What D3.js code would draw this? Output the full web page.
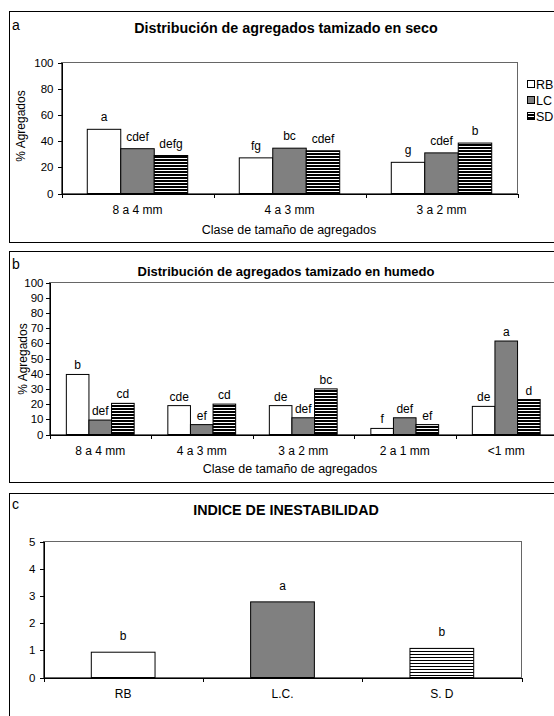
<!DOCTYPE html>
<html>
<head>
<meta charset="utf-8">
<script src="https://cdn.jsdelivr.net/npm/d3@7"></script>
<style>
  body { margin: 0; background: #fff; }
  text { font-family: "Liberation Sans", Arial, sans-serif; fill: #000; }
</style>
</head>
<body>
<script>
// ---- data ----
var seriesNames = ["RB", "LC", "SD"];

// a: tamizado en seco
var secoClasses = ["8 a 4 mm", "4 a 3 mm", "3 a 2 mm"];
var secoRB = [49, 27.2, 23.8];
var secoLC = [34.2, 34.6, 31];
var secoSD = [29, 32.6, 38.5];
var secoLetrasRB = ["a", "fg", "g"];
var secoLetrasLC = ["cdef", "bc", "cdef"];
var secoLetrasSD = ["defg", "cdef", "b"];
var secoTicks = [0, 20, 40, 60, 80, 100];

// b: tamizado en humedo
var humedoClasses = ["8 a 4 mm", "4 a 3 mm", "3 a 2 mm", "2 a 1 mm", "<1 mm"];
var humedoRB = [39.5, 19, 19, 4, 18.5];
var humedoLC = [9.5, 6.5, 11, 11, 61.5];
var humedoSD = [20.5, 20, 30, 6.5, 23];
var humedoLetrasRB = ["b", "cde", "de", "f", "de"];
var humedoLetrasLC = ["def", "ef", "def", "def", "a"];
var humedoLetrasSD = ["cd", "cd", "bc", "ef", "d"];
var humedoTicks = [0, 10, 20, 30, 40, 50, 60, 70, 80, 90, 100];

// c: indice de inestabilidad
var indiceTrat = ["RB", "L.C.", "S. D"];
var indiceVal = [0.93, 2.78, 1.07];
var indiceLetras = ["b", "a", "b"];
var indiceTicks = [0, 1, 2, 3, 4, 5];

var svg = d3.select("body").append("svg")
  .attr("width", 554)
  .attr("height", 716);

var defs = svg.append("defs");
function stripes(id, black, period) {
  var p = defs.append("pattern")
    .attr("id", id)
    .attr("patternUnits", "userSpaceOnUse")
    .attr("width", 8).attr("height", period);
  p.append("rect").attr("width", 8).attr("height", period).attr("fill", "#fff");
  p.append("rect").attr("width", 8).attr("height", black).attr("fill", "#000");
}
stripes("rayasAB", 2, 3);
stripes("rayasC", 1, 3);

var fills = {RB: "#fff", LC: "#808080", SD: "url(#rayasAB)"};

function drawPanel(opt) {
  var g = svg.append("g");

  // outer frame
  g.append("rect")
    .attr("x", opt.frame[0] + 0.5).attr("y", opt.frame[1] + 0.5)
    .attr("width", opt.frame[2]).attr("height", opt.frame[3])
    .attr("fill", "none").attr("stroke", "#000");

  g.append("text")
    .attr("x", 12).attr("y", opt.frame[1] + opt.letterDy)
    .style("font-size", "14px")
    .text(opt.letter);

  g.append("text")
    .attr("x", 286).attr("y", opt.titleY)
    .attr("text-anchor", "middle")
    .style("font-size", opt.titleSize)
    .style("font-weight", "bold")
    .text(opt.title);

  var y = d3.scaleLinear().domain([0, opt.ticks[opt.ticks.length - 1]])
    .range([opt.bottom, opt.top]);
  var x = d3.scaleBand().domain(opt.categories)
    .range([opt.left, opt.right]);
  var xs = d3.scaleBand().domain(opt.series.map(function(s) { return s.name; }))
    .range([0, x.bandwidth()])
    .paddingOuter(opt.outer);

  // plot area border
  g.append("rect")
    .attr("x", opt.left).attr("y", opt.top)
    .attr("width", opt.right - opt.left).attr("height", opt.bottom - opt.top)
    .attr("fill", "none").attr("stroke", "#666")
    .attr("shape-rendering", "crispEdges");

  opt.series.forEach(function(s) {
    var grp = g.append("g");
    grp.selectAll("rect")
      .data(s.values)
      .enter().append("rect")
      .attr("x", function(d, i) { return x(opt.categories[i]) + xs(s.name); })
      .attr("y", function(d) { return y(d); })
      .attr("width", xs.bandwidth())
      .attr("height", function(d) { return y(0) - y(d); })
      .attr("fill", function(d, i) { return Array.isArray(s.fill) ? s.fill[i] : s.fill; })
      .attr("stroke", "#000")
      .attr("stroke-width", 1);

    grp.selectAll("text")
      .data(s.values)
      .enter().append("text")
      .attr("x", function(d, i) { return x(opt.categories[i]) + xs(s.name) + xs.bandwidth() / 2; })
      .attr("y", function(d) { return y(d) - opt.labelGap; })
      .attr("text-anchor", "middle")
      .style("font-size", "12px")
      .text(function(d, i) { return s.letters[i]; });
  });

  // y axis
  var ya = g.append("g")
    .attr("transform", "translate(" + opt.left + ",0)")
    .call(d3.axisLeft(y).tickValues(opt.ticks).tickFormat(d3.format("d"))
      .tickSize(4).tickSizeOuter(0).tickPadding(opt.tickPad));
  ya.selectAll("text").style("font-size", "11.5px").attr("fill", "#000");
  ya.selectAll("line, path").attr("stroke", "#000").attr("shape-rendering", "crispEdges");

  // x axis: ticks on category boundaries
  var xb = d3.scaleLinear().domain([0, opt.categories.length]).range([opt.left, opt.right]);
  var xa = g.append("g")
    .attr("transform", "translate(0," + opt.bottom + ")")
    .call(d3.axisBottom(xb).tickValues(d3.range(opt.categories.length + 1))
      .tickFormat("").tickSize(4).tickSizeOuter(0));
  xa.selectAll("line, path").attr("stroke", "#000").attr("shape-rendering", "crispEdges");

  var xl = g.append("g")
    .attr("transform", "translate(0," + opt.bottom + ")")
    .call(d3.axisBottom(x).tickSize(0).tickPadding(opt.catPad));
  xl.select("path").remove();
  xl.selectAll("text").style("font-size", "12px").attr("fill", "#000");

  if (opt.xTitle) {
    g.append("text")
      .attr("x", opt.xTitleX).attr("y", opt.xTitleY)
      .attr("text-anchor", "middle")
      .style("font-size", "12.5px")
      .text(opt.xTitle);
  }
  if (opt.yTitle) {
    g.append("text")
      .attr("transform", "translate(" + opt.yTitleX + "," + opt.yTitleY + ") rotate(-90)")
      .attr("text-anchor", "middle")
      .style("font-size", "12px")
      .text(opt.yTitle);
  }
  return g;
}

// panel a
var ga = drawPanel({
  frame: [9, 11, 600, 231], letter: "a", letterDy: 19,
  title: "Distribución de agregados tamizado en seco", titleY: 33, titleSize: "14.3px",
  categories: secoClasses, ticks: secoTicks,
  series: [
    {name: "RB", values: secoRB, letters: secoLetrasRB, fill: fills.RB},
    {name: "LC", values: secoLC, letters: secoLetrasLC, fill: fills.LC},
    {name: "SD", values: secoSD, letters: secoLetrasSD, fill: fills.SD}
  ],
  left: 61.5, right: 517.5, top: 62.5, bottom: 193.5, outer: 0.77,
  labelGap: 8, tickPad: 4, catPad: 12,
  xTitle: "Clase de tamaño de agregados", xTitleX: 289, xTitleY: 234,
  yTitle: "% Agregados", yTitleX: 25, yTitleY: 126
});

// legend of panel a
var leg = ga.append("g");
seriesNames.forEach(function(name, i) {
  var ly = 84 + i * 16;
  leg.append("rect")
    .attr("x", 527.5).attr("y", ly - 3.5)
    .attr("width", 7).attr("height", 7)
    .attr("fill", fills[name])
    .attr("stroke", "#000");
  leg.append("text")
    .attr("x", 536).attr("y", ly + 4.5)
    .style("font-size", "12.5px")
    .text(name);
});

// panel b
drawPanel({
  frame: [9, 251, 600, 231], letter: "b", letterDy: 18,
  title: "Distribución de agregados tamizado en humedo", titleY: 276, titleSize: "13px",
  categories: humedoClasses, ticks: humedoTicks,
  series: [
    {name: "RB", values: humedoRB, letters: humedoLetrasRB, fill: fills.RB},
    {name: "LC", values: humedoLC, letters: humedoLetrasLC, fill: fills.LC},
    {name: "SD", values: humedoSD, letters: humedoLetrasSD, fill: fills.SD}
  ],
  left: 49.5, right: 557, top: 282.5, bottom: 434.5, outer: 0.745,
  labelGap: 5, tickPad: 2, catPad: 12,
  xTitle: "Clase de tamaño de agregados", xTitleX: 290, xTitleY: 473,
  yTitle: "% Agregados", yTitleX: 27, yTitleY: 359
});

// panel c
drawPanel({
  frame: [9, 493, 600, 300], letter: "c", letterDy: 16,
  title: "INDICE DE INESTABILIDAD", titleY: 515, titleSize: "14.3px",
  categories: indiceTrat, ticks: indiceTicks,
  series: [
    {name: "val", values: indiceVal, letters: indiceLetras,
     fill: ["#fff", "#808080", "url(#rayasC)"]}
  ],
  left: 43.5, right: 521.5, top: 541.5, bottom: 677.5, outer: 0.75,
  labelGap: 12, tickPad: 4, catPad: 12
});
</script>
</body>
</html>
